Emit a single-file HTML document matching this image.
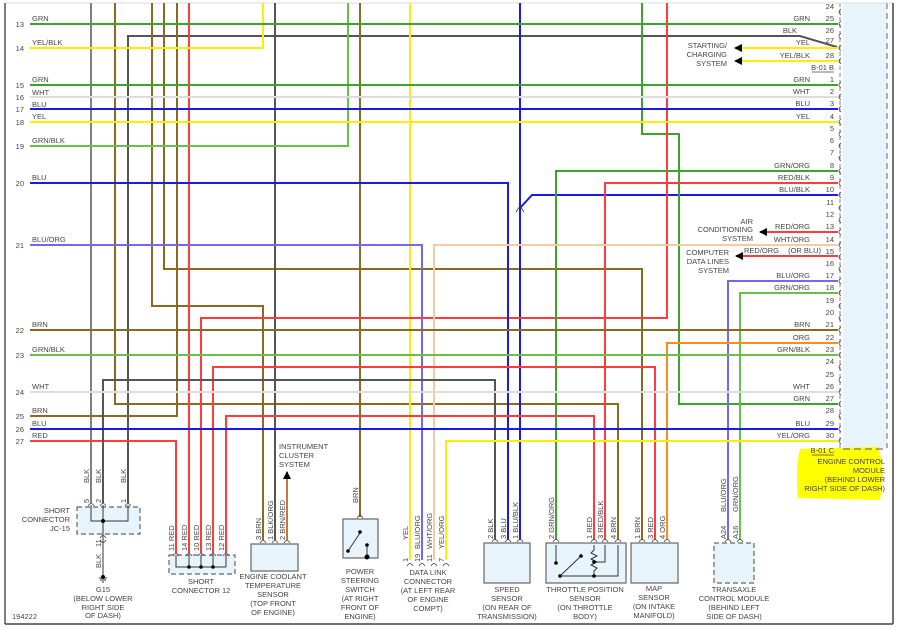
<!DOCTYPE html>
<html><head><meta charset="utf-8"><style>
html,body{margin:0;padding:0;background:#fff;}
svg{display:block;}
text{font-family:"Liberation Sans",sans-serif;font-size:7.5px;fill:#444;}
</style></head><body>
<svg width="902" height="630" viewBox="0 0 902 630" xmlns="http://www.w3.org/2000/svg">
<defs>
<marker id="ar" markerWidth="9" markerHeight="9" refX="7" refY="4" orient="auto" markerUnits="userSpaceOnUse"><path d="M0,0 L8,4 L0,8 Z" fill="#000"/></marker>
</defs>
<!-- ECM body -->
<rect x="843" y="3" width="44" height="445" fill="#e8f4fc"/>
<line x1="887" y1="3" x2="887" y2="448" stroke="#666" stroke-dasharray="6,4" stroke-width="1"/>
<line x1="840" y1="3" x2="840" y2="448" stroke="#666" stroke-dasharray="4,3" stroke-width="0.8"/>
<path d="M800,449 Q795,470 798,498 L880,500 Q886,470 878,447 Z" fill="#ffff00"/>
<line x1="843" y1="449" x2="887" y2="449" stroke="#555" stroke-dasharray="7,4" stroke-width="1"/>
<!-- frame -->
<line x1="5" y1="3" x2="893" y2="3" stroke="#ddd" stroke-width="1"/>
<line x1="5" y1="3" x2="5" y2="624" stroke="#555" stroke-width="1.5"/>
<line x1="893" y1="3" x2="893" y2="624" stroke="#444" stroke-width="1.5"/>
<line x1="5" y1="624" x2="893" y2="624" stroke="#444" stroke-width="1.5"/>

<g fill="none" stroke-width="2">
<polyline points="91,3 91,503" stroke="#808080"/>
<polyline points="837,47 800,36 128,36 128,503" stroke="#555"/>
<polyline points="115,3 115,404 618,404 618,540" stroke="#8a6a1e"/>
<polyline points="152,3 152,306 263,306 263,540" stroke="#8a6a1e"/>
<polyline points="164,3 164,269 642,269 642,540" stroke="#8a6a1e"/>
<polyline points="30,416 177,416 177,3" stroke="#8a6a1e"/>
<polyline points="189,3 189,553" stroke="#ff3b3b"/>
<polyline points="30,441 176,441 176,553" stroke="#ff3b3b"/>
<polyline points="30,48 263,48 263,3" stroke="#ffee00"/>
<polyline points="275,3 275,540" stroke="#555"/>
<polyline points="30,146 348,146 348,3" stroke="#6abf4b"/>
<polyline points="360,3 360,517" stroke="#8a6a1e"/>
<polyline points="410,3 410,560" stroke="#ffee00"/>
<polyline points="520,3 520,540" stroke="#1a1ae6"/>
<polyline points="838,195 532,195 520,208" stroke="#1a1ae6"/>
<polyline points="642,3 642,134 679,134 679,404 838,404" stroke="#3aa52a"/>
<polyline points="667,3 667,318 201,318 201,553" stroke="#ff3b3b"/>
<polyline points="838,171 556,171 556,540" stroke="#3aa52a"/>
<polyline points="838,183 605,183 605,540" stroke="#ff3b3b"/>
<polyline points="30,183 508,183 508,540" stroke="#1a1ae6"/>
<polyline points="30,245 422,245 422,560" stroke="#7766ee"/>
<polyline points="838,245 434,245 434,560" stroke="#f3cba6"/>
<polyline points="838,232 760,232" stroke="#ff3b3b" marker-end="url(#ar)"/>
<polyline points="838,256 736,256" stroke="#ff3b3b" marker-end="url(#ar)"/>
<polyline points="838,281 728,281 728,540" stroke="#7766ee"/>
<polyline points="838,293 740,293 740,540" stroke="#6abf4b"/>
<polyline points="30,330 838,330" stroke="#8a6a1e"/>
<polyline points="838,343 667,343 667,540" stroke="#ff8c1a"/>
<polyline points="30,355 838,355" stroke="#6abf4b"/>
<polyline points="213,553 213,367 655,367 655,540" stroke="#ff3b3b"/>
<polyline points="103,503 103,380 495,380 495,540" stroke="#555"/>
<polyline points="30,392 838,392" stroke="#ddd"/>
<polyline points="226,553 226,416 594,416 594,540" stroke="#ff3b3b"/>
<polyline points="30,429 838,429" stroke="#1a1ae6"/>
<polyline points="838,441 446,441 446,560" stroke="#ffee00"/>
<polyline points="30,24 838,24" stroke="#3aa52a"/>
<polyline points="30,85 838,85" stroke="#3aa52a"/>
<polyline points="30,97 838,97" stroke="#ddd"/>
<polyline points="30,109 838,109" stroke="#1a1ae6"/>
<polyline points="30,122 838,122" stroke="#ffee00"/>
<polyline points="287,540 287,472" stroke="#c8763a" marker-end="url(#ar)"/>
<polyline points="838,48 735,48" stroke="#ffee00" marker-end="url(#ar)"/>
<polyline points="838,61 735,61" stroke="#ffee00" marker-end="url(#ar)"/>
</g>
<path d="M516,212 L520,206 L524,212" fill="none" stroke="#333" stroke-width="0.8"/>

<g fill="none" stroke="#555" stroke-width="0.8">
<path d="M841,9 q-4,3 0,6 M841,21 q-4,3 0,6 M841,33 q-4,3 0,6 M841,45 q-4,3 0,6 M841,58 q-4,3 0,6"/>
<path d="M841,82 q-4,3 0,6 M841,94 q-4,3 0,6 M841,106 q-4,3 0,6 M841,119 q-4,3 0,6 M841,131 q-4,3 0,6 M841,143 q-4,3 0,6 M841,155 q-4,3 0,6 M841,168 q-4,3 0,6 M841,180 q-4,3 0,6 M841,192 q-4,3 0,6 M841,205 q-4,3 0,6 M841,217 q-4,3 0,6 M841,229 q-4,3 0,6 M841,242 q-4,3 0,6 M841,254 q-4,3 0,6 M841,266 q-4,3 0,6 M841,278 q-4,3 0,6 M841,290 q-4,3 0,6 M841,303 q-4,3 0,6 M841,315 q-4,3 0,6 M841,327 q-4,3 0,6 M841,340 q-4,3 0,6 M841,352 q-4,3 0,6 M841,364 q-4,3 0,6 M841,377 q-4,3 0,6 M841,389 q-4,3 0,6 M841,401 q-4,3 0,6 M841,413 q-4,3 0,6 M841,426 q-4,3 0,6 M841,438 q-4,3 0,6"/>
</g>

<g text-anchor="end">
<text x="24" y="27">13</text><text x="24" y="51">14</text><text x="24" y="88">15</text><text x="24" y="100">16</text><text x="24" y="112">17</text><text x="24" y="125">18</text><text x="24" y="149">19</text><text x="24" y="186">20</text><text x="24" y="248">21</text><text x="24" y="333">22</text><text x="24" y="358">23</text><text x="24" y="395">24</text><text x="24" y="419">25</text><text x="24" y="432">26</text><text x="24" y="444">27</text>
</g>
<g>
<text x="32" y="21">GRN</text><text x="32" y="45">YEL/BLK</text><text x="32" y="82">GRN</text><text x="32" y="95">WHT</text><text x="32" y="107">BLU</text><text x="32" y="119">YEL</text><text x="32" y="143">GRN/BLK</text><text x="32" y="180">BLU</text><text x="32" y="242">BLU/ORG</text><text x="32" y="327">BRN</text><text x="32" y="352">GRN/BLK</text><text x="32" y="389">WHT</text><text x="32" y="413">BRN</text><text x="32" y="426">BLU</text><text x="32" y="438">RED</text>
</g>

<g text-anchor="end">
<text x="834" y="9">24</text><text x="834" y="21">25</text><text x="834" y="33">26</text><text x="834" y="43">27</text><text x="834" y="58">28</text>
<text x="834" y="82">1</text><text x="834" y="94">2</text><text x="834" y="106">3</text><text x="834" y="119">4</text><text x="834" y="131">5</text><text x="834" y="143">6</text><text x="834" y="155">7</text><text x="834" y="168">8</text><text x="834" y="180">9</text><text x="834" y="192">10</text><text x="834" y="205">11</text><text x="834" y="217">12</text><text x="834" y="229">13</text><text x="834" y="242">14</text><text x="834" y="254">15</text><text x="834" y="266">16</text><text x="834" y="278">17</text><text x="834" y="290">18</text><text x="834" y="303">19</text><text x="834" y="315">20</text><text x="834" y="327">21</text><text x="834" y="340">22</text><text x="834" y="352">23</text><text x="834" y="364">24</text><text x="834" y="377">25</text><text x="834" y="389">26</text><text x="834" y="401">27</text><text x="834" y="413">28</text><text x="834" y="426">29</text><text x="834" y="438">30</text>
<text x="810" y="21">GRN</text><text x="797" y="33">BLK</text><text x="810" y="45">YEL</text><text x="810" y="58">YEL/BLK</text>
<text x="834" y="70">B-01 B</text><text x="834" y="453">B-01 C</text>
<text x="810" y="82">GRN</text><text x="810" y="94">WHT</text><text x="810" y="106">BLU</text><text x="810" y="119">YEL</text>
<text x="810" y="168">GRN/ORG</text><text x="810" y="180">RED/BLK</text><text x="810" y="192">BLU/BLK</text>
<text x="810" y="229">RED/ORG</text><text x="810" y="242">WHT/ORG</text><text x="779" y="253">RED/ORG</text><text x="821" y="253">(OR BLU)</text>
<text x="810" y="278">BLU/ORG</text><text x="810" y="290">GRN/ORG</text>
<text x="810" y="327">BRN</text><text x="810" y="340">ORG</text><text x="810" y="352">GRN/BLK</text><text x="810" y="389">WHT</text><text x="810" y="401">GRN</text><text x="810" y="426">BLU</text><text x="810" y="438">YEL/ORG</text>
<text x="727" y="48">STARTING/</text><text x="727" y="57">CHARGING</text><text x="727" y="66">SYSTEM</text>
<text x="753" y="224">AIR</text><text x="753" y="232">CONDITIONING</text><text x="753" y="241">SYSTEM</text>
<text x="729" y="255">COMPUTER</text><text x="729" y="264">DATA LINES</text><text x="729" y="273">SYSTEM</text>
<text x="885" y="464">ENGINE CONTROL</text><text x="885" y="473">MODULE</text><text x="885" y="482">(BEHIND LOWER</text><text x="885" y="491">RIGHT SIDE OF DASH)</text>
</g>
<line x1="812" y1="72" x2="834" y2="72" stroke="#444" stroke-width="0.8"/>
<line x1="812" y1="455" x2="834" y2="455" stroke="#444" stroke-width="0.8"/>

<g stroke="#666" stroke-width="1.2" fill="#e8f4fc">
<rect x="77" y="507" width="63" height="27" stroke-dasharray="5,3"/>
<rect x="169" y="555" width="66" height="19" stroke-dasharray="5,3"/>
<rect x="251" y="544" width="47" height="27"/>
<rect x="343" y="519" width="35" height="39"/>
<rect x="484" y="543" width="46" height="40"/>
<rect x="546" y="543" width="80" height="40"/>
<rect x="631" y="543" width="47" height="40"/>
<rect x="714" y="543" width="40" height="40" stroke-dasharray="5,3"/>
</g>
<g fill="none" stroke="#333" stroke-width="1">
<path d="M91,505 V521 H128 V505 M103,505 V540 M103,540 V575"/>
<path d="M176,555 V567 H226 M189,555 V567 M201,555 V567 M213,555 V567 M226,555 V567"/>
<path d="M99,578 h8 M100,580 h6 M102,582 h2"/>
<path d="M348,551 L360,533 M367,545 V556"/>
<path d="M556,545 V563 M560,576 L581,556 M560,576 H594 M594,545 V550 l-3,3 6,3 -6,3 6,3 -6,3 6,3 -3,3 V576 M594,562 H605 V545 M594,576 H618 V545"/>
</g>
<g fill="#000">
<circle cx="103" cy="521" r="2"/><circle cx="189" cy="567" r="1.8"/><circle cx="201" cy="567" r="1.8"/><circle cx="213" cy="567" r="1.8"/>
<circle cx="360" cy="532" r="1.8"/><circle cx="348" cy="551" r="1.8"/><circle cx="367" cy="545" r="1.8"/><circle cx="367" cy="557" r="2.5"/>
<circle cx="103" cy="577" r="2"/>
<circle cx="556" cy="563" r="1.8"/><circle cx="581" cy="556" r="1.8"/><circle cx="560" cy="576" r="1.8"/><circle cx="594" cy="576" r="1.8"/><circle cx="594" cy="562" r="1.8"/>
</g>
<g fill="none" stroke="#444" stroke-width="0.8">
<path d="M88,506 q3,-5 6,0 M100,506 q3,-5 6,0 M125,506 q3,-5 6,0 M100,538 q3,-5 6,0 M100,540 q3,5 6,0"/>
<path d="M173,556 q3,-5 6,0 M186,556 q3,-5 6,0 M198,556 q3,-5 6,0 M210,556 q3,-5 6,0 M223,556 q3,-5 6,0"/>
<path d="M260,543 q3,-5 6,0 M272,543 q3,-5 6,0 M284,543 q3,-5 6,0 M357,518 q3,-5 6,0"/>
<path d="M407,566 q3,-5 6,0 M419,566 q3,-5 6,0 M431,566 q3,-5 6,0 M443,566 q3,-5 6,0"/>
<path d="M492,542 q3,-5 6,0 M505,542 q3,-5 6,0 M517,542 q3,-5 6,0 M553,542 q3,-5 6,0 M591,542 q3,-5 6,0 M602,542 q3,-5 6,0 M615,542 q3,-5 6,0 M639,542 q3,-5 6,0 M652,542 q3,-5 6,0 M664,542 q3,-5 6,0 M725,542 q3,-5 6,0 M737,542 q3,-5 6,0"/>
</g>
<g>
<text transform="translate(89,503) rotate(-90)">5</text><text transform="translate(101,503) rotate(-90)">2</text><text transform="translate(126,503) rotate(-90)">1</text>
<text transform="translate(89,483) rotate(-90)">BLK</text><text transform="translate(101,483) rotate(-90)">BLK</text><text transform="translate(126,483) rotate(-90)">BLK</text>
<text transform="translate(101,547) rotate(-90)">11</text><text transform="translate(101,568) rotate(-90)">BLK</text>
<text transform="translate(174,551) rotate(-90)">11  RED</text><text transform="translate(187,551) rotate(-90)">14  RED</text><text transform="translate(199,551) rotate(-90)">10  RED</text><text transform="translate(211,551) rotate(-90)">13  RED</text><text transform="translate(224,551) rotate(-90)">12  RED</text>
<text transform="translate(261,540) rotate(-90)">3  BRN</text><text transform="translate(273,540) rotate(-90)">1  BLK/ORG</text><text transform="translate(285,540) rotate(-90)">2  BRN/RED</text>
<text transform="translate(358,503) rotate(-90)">BRN</text>
<text transform="translate(408,562) rotate(-90)">1</text><text transform="translate(420,562) rotate(-90)">19</text><text transform="translate(432,562) rotate(-90)">11</text><text transform="translate(444,562) rotate(-90)">7</text>
<text transform="translate(408,540) rotate(-90)">YEL</text><text transform="translate(420,549) rotate(-90)">BLU/ORG</text><text transform="translate(432,549) rotate(-90)">WHT/ORG</text><text transform="translate(444,549) rotate(-90)">YEL/ORG</text>
<text transform="translate(493,539) rotate(-90)">2  BLK</text><text transform="translate(506,539) rotate(-90)">3  BLU</text><text transform="translate(518,539) rotate(-90)">1  BLU/BLK</text>
<text transform="translate(554,539) rotate(-90)">2  GRN/ORG</text><text transform="translate(592,539) rotate(-90)">1  RED</text><text transform="translate(603,539) rotate(-90)">3  RED/BLK</text><text transform="translate(616,539) rotate(-90)">4  BRN</text>
<text transform="translate(640,539) rotate(-90)">1  BRN</text><text transform="translate(653,539) rotate(-90)">3  RED</text><text transform="translate(665,539) rotate(-90)">4  ORG</text>
<text transform="translate(726,539) rotate(-90)">A24</text><text transform="translate(738,539) rotate(-90)">A16</text>
<text transform="translate(726,512) rotate(-90)">BLU/ORG</text><text transform="translate(738,512) rotate(-90)">GRN/ORG</text>
</g>
<g text-anchor="end"><text x="70" y="513">SHORT</text><text x="70" y="522">CONNECTOR</text><text x="70" y="531">JC-15</text></g>
<g text-anchor="middle">
<text x="103" y="592">G15</text><text x="103" y="601">(BELOW LOWER</text><text x="103" y="610">RIGHT SIDE</text><text x="103" y="618">OF DASH)</text>
<text x="201" y="584">SHORT</text><text x="201" y="593">CONNECTOR 12</text>
<text x="273" y="579">ENGINE COOLANT</text><text x="273" y="588">TEMPERATURE</text><text x="273" y="597">SENSOR</text><text x="273" y="606">(TOP FRONT</text><text x="273" y="615">OF ENGINE)</text>
<text x="360" y="574">POWER</text><text x="360" y="583">STEERING</text><text x="360" y="592">SWITCH</text><text x="360" y="601">(AT RIGHT</text><text x="360" y="610">FRONT OF</text><text x="360" y="619">ENGINE)</text>
<text x="428" y="575">DATA LINK</text><text x="428" y="584">CONNECTOR</text><text x="428" y="593">(AT LEFT REAR</text><text x="428" y="602">OF ENGINE</text><text x="428" y="611">COMPT)</text>
<text x="507" y="592">SPEED</text><text x="507" y="601">SENSOR</text><text x="507" y="610">(ON REAR OF</text><text x="507" y="619">TRANSMISSION)</text>
<text x="585" y="592">THROTTLE POSITION</text><text x="585" y="601">SENSOR</text><text x="585" y="610">(ON THROTTLE</text><text x="585" y="619">BODY)</text>
<text x="654" y="591">MAP</text><text x="654" y="600">SENSOR</text><text x="654" y="609">(ON INTAKE</text><text x="654" y="618">MANIFOLD)</text>
<text x="734" y="592">TRANSAXLE</text><text x="734" y="601">CONTROL MODULE</text><text x="734" y="610">(BEHIND LEFT</text><text x="734" y="619">SIDE OF DASH)</text>
</g>
<text x="279" y="449">INSTRUMENT</text><text x="279" y="458">CLUSTER</text><text x="279" y="467">SYSTEM</text>
<text x="12" y="619">194222</text>
</svg>
</body></html>
